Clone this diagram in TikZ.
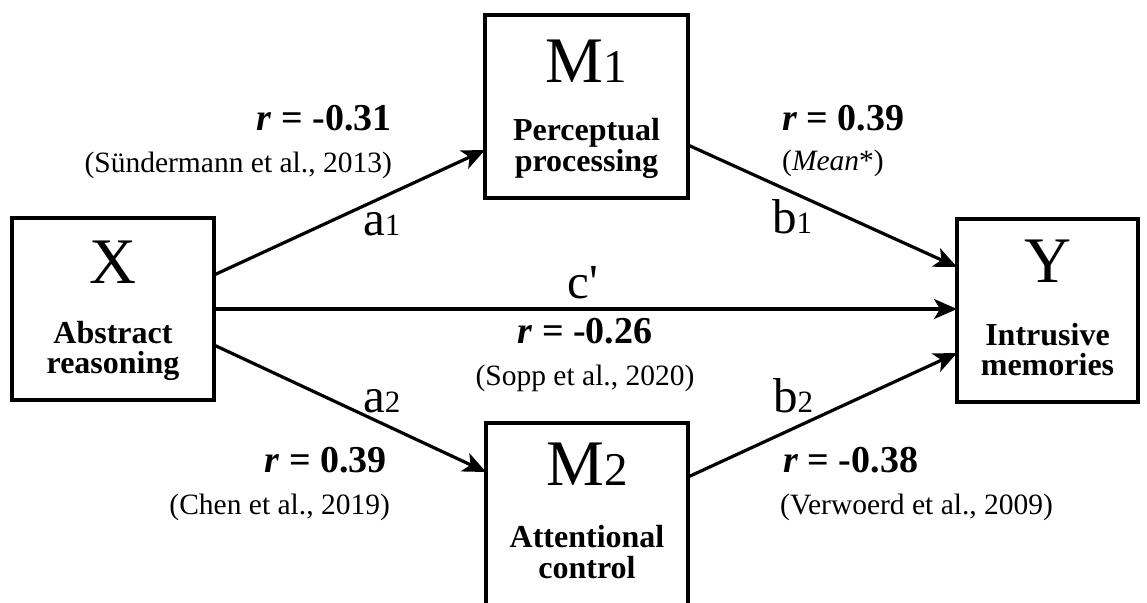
\documentclass[tikz,border=0pt]{standalone}
\usepackage{fontspec}
\setmainfont{Liberation Serif}
\usetikzlibrary{arrows.meta}
\newcommand{\bigL}[2]{{\fontsize{65}{65}\selectfont #1}{\fontsize{47}{47}\selectfont #2}}
\newcommand{\pathL}[2]{{\fontsize{49}{49}\selectfont #1}{\fontsize{31}{31}\selectfont #2}}
\tikzset{
  box/.style={draw=black, line width=3.5pt, rectangle, inner sep=0pt, outer sep=0pt},
  boxtxt/.style={anchor=base, inner sep=0pt, font=\fontsize{32}{32}\selectfont\bfseries},
  bigtxt/.style={anchor=base, inner sep=0pt},
  rtxt/.style={inner sep=0pt, font=\fontsize{38}{38}\selectfont\bfseries},
  citetxt/.style={inner sep=0pt, font=\fontsize{29.5}{29.5}\selectfont},
  pathlbl/.style={inner sep=0pt},
  arr/.style={line width=3.2pt, -{Stealth[length=23pt,width=20pt,inset=6pt]}}
}
\begin{document}
\begin{tikzpicture}[x=1pt,y=-1pt]
\useasboundingbox (0,0) rectangle (1147,602);
\clip (0,0) rectangle (1147,602);
% boxes
\node[box, minimum width=202pt, minimum height=182pt] (X) at (113,309) {};
\node[box, minimum width=203pt, minimum height=183pt] (M1) at (586.5,106.5) {};
\node[box, minimum width=181pt, minimum height=183pt] (Y) at (1047.5,310.5) {};
\node[box, minimum width=202pt, minimum height=227pt] (M2) at (587,536.5) {};
% box labels
\node[bigtxt] (Xl) at (113,283) {\bigL{X}{}};
\node[boxtxt] (Xa) at (113,343) {Abstract};
\node[boxtxt] (Xb) at (113,373) {reasoning};
\node[bigtxt] (M1l) at (586.5,82) {\bigL{M}{1}};
\node[boxtxt] (M1a) at (586.5,140) {Perceptual};
\node[boxtxt] (M1b) at (586.5,171) {processing};
\node[bigtxt] (Yl) at (1047.5,282) {\bigL{Y}{}};
\node[boxtxt] (Ya) at (1047.5,345) {Intrusive};
\node[boxtxt] (Yb) at (1047.5,375) {memories};
\node[bigtxt] (M2l) at (587,485) {\bigL{M}{2}};
\node[boxtxt] (M2a) at (587,547) {Attentional};
\node[boxtxt] (M2b) at (587,578) {control};
% arrows
\draw[arr] ([yshift=34pt]X.east) -- ([yshift=-43.5pt]M1.west);
\draw[arr] ([yshift=-38.5pt]M1.east) -- ([yshift=43.5pt]Y.west);
\draw[arr] (X.east) -- (X.east -| Y.west);
\draw[arr] ([yshift=-36pt]X.east) -- ([yshift=-49pt]M2.north west);
\draw[arr] ([yshift=-54pt]M2.north east) -- ([yshift=-42.5pt]Y.west);
% path labels
\node[pathlbl, anchor=base west] (a1) at (363,235) {\pathL{a}{1}};
\node[pathlbl, anchor=base west] (b1) at (772,233) {\pathL{b}{1}};
\node[pathlbl, anchor=base] (cp) at (583,298) {\pathL{c\textquotesingle}{}};
\node[pathlbl, anchor=base west] (a2) at (363,412) {\pathL{a}{2}};
\node[pathlbl, anchor=base west] (b2) at (773,412) {\pathL{b}{2}};
% statistics
\node[rtxt, anchor=base east] (r1) at (392,130) {\textit{r} = -0.31};
\node[citetxt, anchor=base east] (c1) at (392,172) {(Sündermann et al., 2013)};
\node[rtxt, anchor=base west] (r2) at (782,130) {\textit{r} = 0.39};
\node[citetxt, anchor=base west] (c2) at (782,170) {(\textit{Mean}*)};
\node[rtxt, anchor=base] (r3) at (585,343) {\textit{r} = -0.26};
\node[citetxt, anchor=base] (c3) at (585,385) {(Sopp et al., 2020)};
\node[rtxt, anchor=base east] (r4) at (387,472) {\textit{r} = 0.39};
\node[citetxt, anchor=base east] (c4) at (390,514) {(Chen et al., 2019)};
\node[rtxt, anchor=base west] (r5) at (783,472) {\textit{r} = -0.38};
\node[citetxt, anchor=base west] (c5) at (780,514) {(Verwoerd et al., 2009)};
\end{tikzpicture}
\end{document}
